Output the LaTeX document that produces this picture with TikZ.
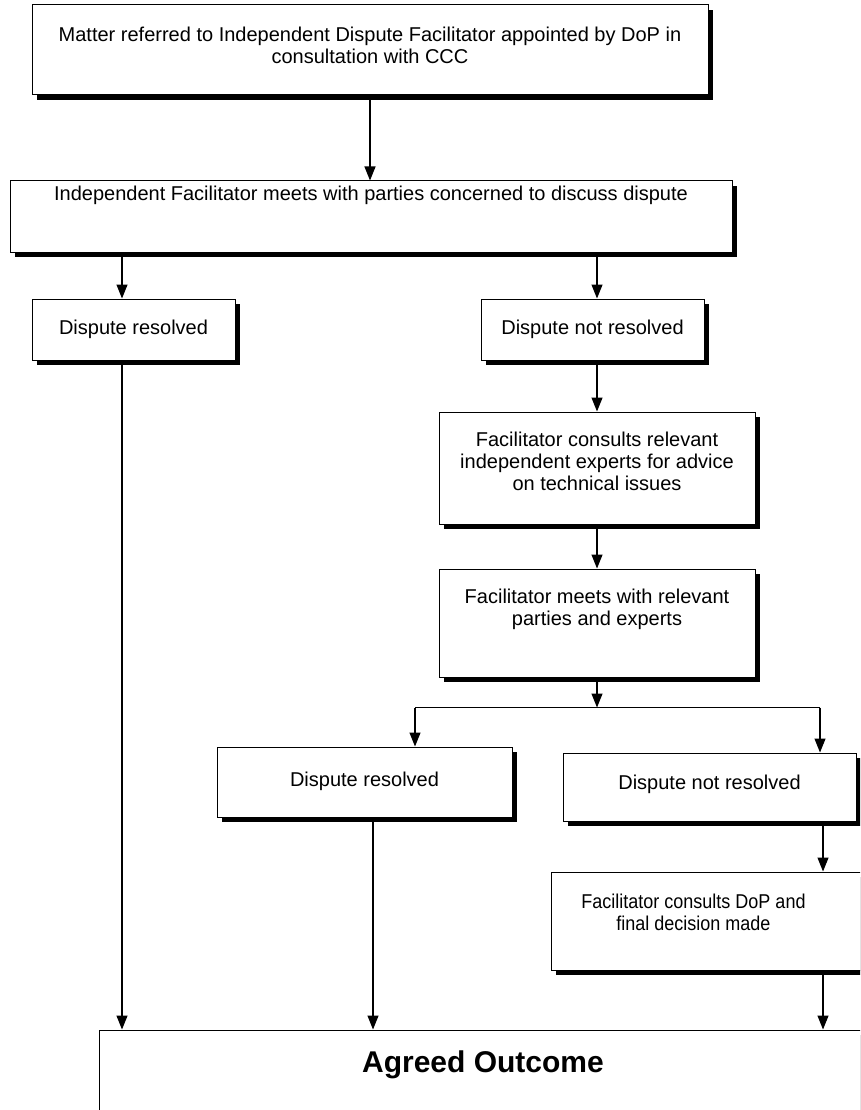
\documentclass[tikz,border=0pt]{standalone}
\usepackage{fontspec}
\setmainfont{Liberation Sans}
\usetikzlibrary{arrows.meta,positioning,shadows}
\tikzset{
  box/.style={
    rectangle, draw=black, fill=white, line width=1pt, inner sep=0pt,
    drop shadow={shadow xshift=5pt, shadow yshift=-5pt, fill=black, opacity=1}
  },
  txt/.style={inner sep=0pt, align=center, font=\fontsize{20}{22}\selectfont},
  narrowtxt/.style={txt, font=\fontsize{20}{22}\selectfont\addfontfeature{FakeStretch=0.9}},
  arrow/.style={-{Triangle[length=14pt,width=11pt]}, line width=1.2pt},
  link/.style={line width=1.2pt},
}
\begin{document}
\begin{tikzpicture}[x=1pt, y=-1pt]
\useasboundingbox (0,0) rectangle (860,1110);
\clip (0,0) rectangle (860,1110);

% First stage
\node[box, minimum width=676pt, minimum height=90pt] (matter) at (370,50) {};
\node[txt, below=22pt of matter.north] (matterT) {Matter referred to Independent Dispute Facilitator appointed by DoP in\\consultation with CCC};

\node[box, minimum width=722pt, minimum height=71pt] (facil) at (371,216.5) {};
\node[txt, below=5pt of facil.north] (facilT) {Independent Facilitator meets with parties concerned to discuss dispute};

% Outcome of first meeting
\node[box, minimum width=203pt, minimum height=61pt] (res1) at (133.5,329.5) {};
\node[txt, below=21pt of res1.north] (res1T) {Dispute resolved};

\node[box, minimum width=223pt, minimum height=61pt] (nres1) at (592.5,329.5) {};
\node[txt, below=21pt of nres1.north] (nres1T) {Dispute not resolved};

% Experts
\node[box, minimum width=316pt, minimum height=112pt] (experts) at (597,468) {};
\node[txt, below=20pt of experts.north] (expertsT) {Facilitator consults relevant\\independent experts for advice\\on technical issues};

\node[box, minimum width=316pt, minimum height=108pt] (meets) at (597,623) {};
\node[txt, below=20pt of meets.north] (meetsT) {Facilitator meets with relevant\\parties and experts};

% Outcome of second meeting
\node[box, minimum width=295pt, minimum height=70pt] (res2) at (364.5,782) {};
\node[txt, below=25.5pt of res2.north] (res2T) {Dispute resolved};

\node[box, minimum width=293pt, minimum height=68pt] (nres2) at (709.5,787) {};
\node[txt, below=22.5pt of nres2.north] (nres2T) {Dispute not resolved};

\node[box, minimum width=319pt, minimum height=98pt] (dop) at (710.5,921) {};
\node[narrowtxt, below=22.5pt of dop.north, xshift=-17pt] (dopT) {Facilitator consults DoP and\\final decision made};

% Final
\node[box, minimum width=780pt, minimum height=120pt] (agreed) at (489,1090) {};
\node[txt, font=\fontsize{30}{33}\selectfont\bfseries, below=21pt of agreed.north, xshift=-6pt] (agreedT) {Agreed Outcome};

% Connectors
\coordinate (split) at ([yshift=-30pt]meets.south);
\draw[arrow] (matter.south) -- (matter.south |- facil.north);
\draw[arrow] ([xshift=-11.5pt]res1.north |- facil.south) -- ([xshift=-11.5pt]res1.north);
\draw[arrow] (experts.north |- facil.south) -- (experts.north |- nres1.north);
\draw[arrow] ([xshift=-11.5pt]res1.south) -- ([xshift=-11.5pt]res1.south |- agreed.north);
\draw[arrow] (experts.north |- nres1.south) -- (experts.north);
\draw[arrow] (experts.south) -- (meets.north);
\draw[arrow] (meets.south) -- (split);
\draw[link] ([xshift=50.5pt]res2.north |- split) -- ([xshift=110.5pt]nres2.north |- split);
\draw[arrow] ([xshift=50.5pt]res2.north |- split) -- ([xshift=50.5pt]res2.north);
\draw[arrow] ([xshift=110.5pt]nres2.north |- split) -- ([xshift=110.5pt]nres2.north);
\draw[arrow] ([xshift=8.5pt]res2.south) -- ([xshift=8.5pt]res2.south |- agreed.north);
\draw[arrow] ([xshift=113.5pt]nres2.south) -- ([xshift=112.5pt]dop.north);
\draw[arrow] ([xshift=112.5pt]dop.south) -- ([xshift=112.5pt]dop.south |- agreed.north);
\end{tikzpicture}
\end{document}
